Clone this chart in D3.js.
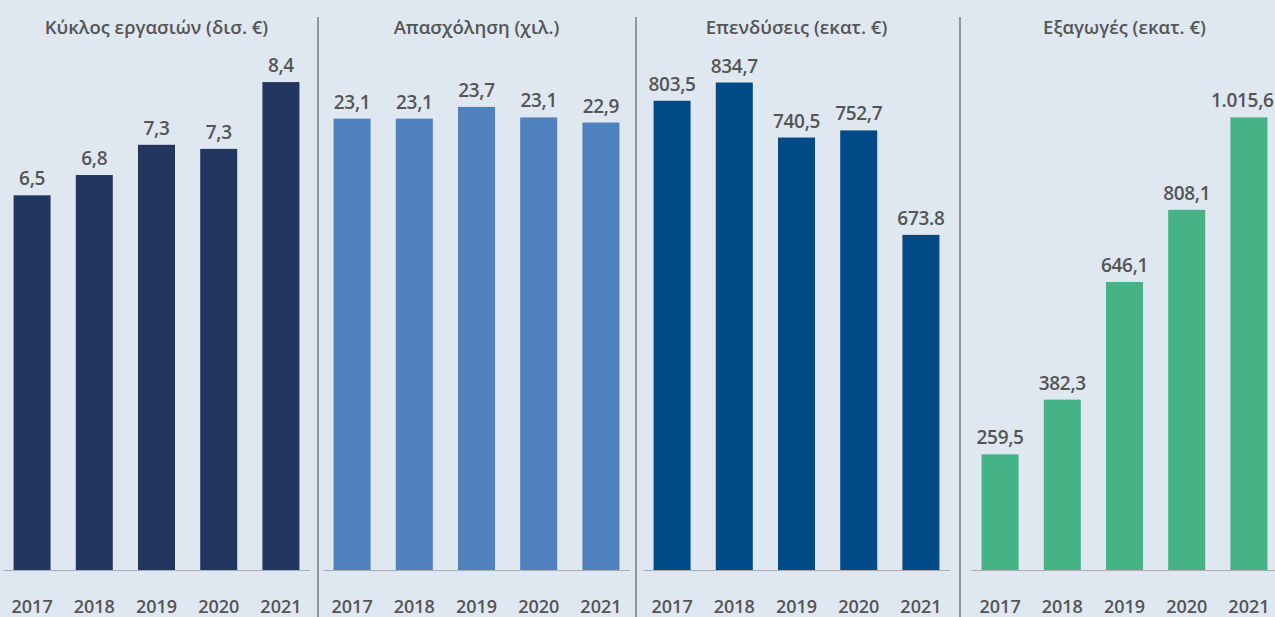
<!DOCTYPE html>
<html lang='el'>
  <head>
    <meta charset='utf-8'>
    <style>
      body { margin: 0; background: #dfe7f0; }
      svg { display: block; }
      text { font-family: 'Open Sans', sans-serif; fill: #555; }
    </style>
  </head>
  <body>
    <div id='chart'></div>
    <script src='https://cdn.jsdelivr.net/npm/d3@7'></script>
    <script>
      var years = ['2017', '2018', '2019', '2020', '2021'];

      var titles = [
        'Κύκλος εργασιών (δισ. €)',
        'Απασχόληση (χιλ.)',
        'Επενδύσεις (εκατ. €)',
        'Εξαγωγές (εκατ. €)'
      ];

      // bar heights
      var turnover = [6.45, 6.8, 7.32, 7.25, 8.4];
      var employment = [23.1, 23.1, 23.7, 23.16, 22.9];
      var investment = [803.5, 834.7, 740.5, 752.7, 573.8];
      var exportsVal = [259.5, 382.3, 646.1, 808.1, 1015.6];

      // value labels as printed
      var turnoverLabels = ['6,5', '6,8', '7,3', '7,3', '8,4'];
      var employmentLabels = ['23,1', '23,1', '23,7', '23,1', '22,9'];
      var investmentLabels = ['803,5', '834,7', '740,5', '752,7', '673.8'];
      var exportsLabels = ['259,5', '382,3', '646,1', '808,1', '1.015,6'];

      var width = 1275, height = 617;
      var baseY = 570, topY = 60;

      var panels = [
        { values: turnover, labels: turnoverLabels, color: '#22365f', x0: 3, max: 8.78 },
        { values: employment, labels: employmentLabels, color: '#4e81bd', x0: 323, max: 26.1 },
        { values: investment, labels: investmentLabels, color: '#004a87', x0: 643, max: 873.3 },
        { values: exportsVal, labels: exportsLabels, color: '#45b385', x0: 971, max: 1144.3 }
      ];
      var panelW = 307;
      var separators = [318, 636, 960];

      var svg = d3.select('#chart').append('svg')
          .attr('width', width)
          .attr('height', height);

      svg.append('rect')
          .attr('width', width)
          .attr('height', height)
          .attr('fill', '#dfe7f0');

      svg.selectAll('line.sep')
          .data(separators)
        .enter().append('line')
          .attr('class', 'sep')
          .attr('x1', function (d) { return d; })
          .attr('x2', function (d) { return d; })
          .attr('y1', 17)
          .attr('y2', height)
          .attr('stroke', '#6b6b6b')
          .attr('stroke-width', 1.3);

      panels.forEach(function (p, i) {
        var x = d3.scaleBand()
            .domain(years)
            .range([p.x0, p.x0 + panelW])
            .paddingInner(0.405)
            .paddingOuter(0.17);

        var y = d3.scaleLinear()
            .domain([0, p.max])
            .range([baseY, topY]);

        var g = svg.append('g');

        g.append('text')
            .attr('x', p.x0 + panelW / 2)
            .attr('y', 34)
            .attr('text-anchor', 'middle')
            .attr('font-size', 18.5)
            .attr('font-weight', 600)
            .text(titles[i]);

        g.selectAll('rect')
            .data(p.values)
          .enter().append('rect')
            .attr('x', function (d, j) { return x(years[j]); })
            .attr('y', function (d) { return y(d); })
            .attr('width', x.bandwidth())
            .attr('height', function (d) { return baseY - y(d); })
            .attr('fill', p.color);

        g.selectAll('text.val')
            .data(p.values)
          .enter().append('text')
            .attr('class', 'val')
            .attr('x', function (d, j) { return x(years[j]) + x.bandwidth() / 2; })
            .attr('y', function (d) { return y(d) - 10; })
            .attr('text-anchor', 'middle')
            .attr('font-size', 19)
            .attr('font-weight', 600)
            .attr('letter-spacing', -0.3)
            .text(function (d, j) { return p.labels[j]; })
            .each(function () {
              // keep the label inside the picture
              var b = this.getBBox();
              if (b.x + b.width > width - 1) {
                d3.select(this).attr('x', +d3.select(this).attr('x') - (b.x + b.width - width + 1));
              }
            });

        var axis = d3.axisBottom(x).tickSize(0).tickPadding(0);
        var ax = g.append('g')
            .attr('transform', 'translate(0,' + baseY + ')')
            .call(axis);
        ax.select('.domain')
            .attr('stroke', '#a9adb3')
            .attr('stroke-width', 1.2);
        ax.selectAll('.tick text')
            .attr('y', 43)
            .attr('dy', 0)
            .attr('font-size', 18)
            .attr('font-weight', 600)
            .attr('fill', '#555')
            .style('font-family', "'Open Sans', sans-serif");
      });
    </script>
  </body>
</html>
